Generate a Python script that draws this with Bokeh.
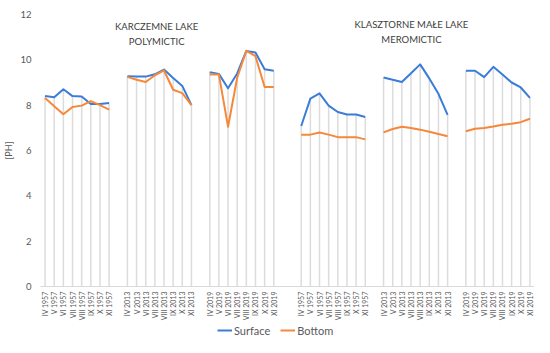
import math
from bokeh.plotting import figure
from bokeh.layouts import column
from bokeh.models import FixedTicker, Label, Legend, LegendItem, Range1d
from bokeh.embed import file_html
from bokeh.resources import INLINE

months = ["IV", "V", "VI", "VII", "VIII", "IX", "X", "XI"]
years = ["1957", "2013", "2019"]
lakes = ["KARCZEMNE LAKE\nPOLYMICTIC", "KLASZTORNE MAŁE LAKE\nMEROMICTIC"]
series_names = ["Surface", "Bottom"]

# Karczemne Lake
k1957_surface = [8.40, 8.35, 8.70, 8.40, 8.38, 8.05, 8.05, 8.10]
k1957_bottom = [8.32, 7.95, 7.60, 7.92, 7.98, 8.18, 8.00, 7.80]
k2013_surface = [9.28, 9.26, 9.26, 9.36, 9.57, 9.20, 8.85, 8.00]
k2013_bottom = [9.25, 9.12, 9.02, 9.32, 9.53, 8.68, 8.53, 8.00]
k2019_surface = [9.45, 9.38, 8.75, 9.40, 10.39, 10.32, 9.58, 9.52]
k2019_bottom = [9.35, 9.35, 7.05, 9.21, 10.40, 10.16, 8.80, 8.80]
# Klasztorne Małe Lake
m1957_surface = [7.08, 8.29, 8.52, 7.98, 7.70, 7.59, 7.59, 7.48]
m1957_bottom = [6.70, 6.70, 6.79, 6.70, 6.59, 6.59, 6.59, 6.49]
m2013_surface = [9.22, 9.12, 9.02, 9.41, 9.80, 9.18, 8.50, 7.57]
m2013_bottom = [6.80, 6.95, 7.05, 6.99, 6.92, 6.83, 6.73, 6.63]
m2019_surface = [9.52, 9.52, 9.24, 9.69, 9.35, 9.00, 8.78, 8.32]
m2019_bottom = [6.85, 6.96, 6.99, 7.06, 7.14, 7.18, 7.25, 7.40]

surface_groups = [k1957_surface, k2013_surface, k2019_surface,
                  m1957_surface, m2013_surface, m2019_surface]
bottom_groups = [k1957_bottom, k2013_bottom, k2019_bottom,
                 m1957_bottom, m2013_bottom, m2019_bottom]

BLUE = "#3A7DD8"
ORANGE = "#F5883A"
GREY = "#595959"

# category slot positions (one empty slot between years, two between lakes)
xs_groups = []
labels = {}
pos = 0
for li in range(2):
    for yi, yr in enumerate(years):
        xs = []
        for m in months:
            xs.append(pos)
            labels[pos] = f"{m} {yr}"
            pos += 1
        xs_groups.append(xs)
        pos += 1
    pos += 1
n_slots = pos - 2

p = figure(width=534, height=323, output_backend="svg", toolbar_location=None,
           x_range=(-0.5, n_slots - 0.5), y_range=(0, 12),
           min_border_left=33, min_border_right=0, min_border_top=14,
           min_border_bottom=37)
p.outline_line_color = None
p.xgrid.grid_line_color = None
p.ygrid.grid_line_color = None
p.background_fill_color = "white"
p.border_fill_color = "white"

# drop lines
dx, dy = [], []
for xs, s, b in zip(xs_groups, surface_groups, bottom_groups):
    for x, sv, bv in zip(xs, s, b):
        dx.append(x)
        dy.append(max(sv, bv))
p.segment(x0=dx, y0=[0] * len(dx), x1=dx, y1=dy, line_color="#DCDCDC", line_width=1.5)

p.multi_line(xs=xs_groups, ys=surface_groups, line_color=BLUE, line_width=2,
             line_join="round")
p.multi_line(xs=xs_groups, ys=bottom_groups, line_color=ORANGE, line_width=2,
             line_join="round")

# axes
p.xaxis.ticker = FixedTicker(ticks=list(labels.keys()))
p.xaxis.major_label_overrides = labels
p.xaxis.major_label_orientation = math.pi / 2
p.xaxis.major_label_text_font = "Lato"
p.xaxis.major_label_text_font_size = "7px"
p.xaxis.major_label_text_color = GREY
p.xaxis.major_tick_line_color = None
p.xaxis.major_tick_out = 0
p.xaxis.minor_tick_line_color = None
p.xaxis.axis_line_color = "#D9D9D9"
p.xaxis.major_label_standoff = 5

p.yaxis.ticker = FixedTicker(ticks=[0, 2, 4, 6, 8, 10, 12])
p.yaxis.major_label_text_font = "Lato"
p.yaxis.major_label_text_font_size = "9.5px"
p.yaxis.major_label_text_color = GREY
p.yaxis.major_tick_line_color = None
p.yaxis.major_tick_out = 0
p.yaxis.minor_tick_line_color = None
p.yaxis.axis_line_color = None
p.yaxis.major_label_standoff = 9
p.yaxis.axis_label = "[PH]"
p.yaxis.axis_label_text_font = "Lato"
p.yaxis.axis_label_text_font_size = "9px"
p.yaxis.axis_label_text_font_style = "normal"
p.yaxis.axis_label_text_color = GREY
p.yaxis.axis_label_standoff = 3

# lake titles
title_pos = [(12.2, 11.47, 10.81), (40.05, 11.56, 10.90)]
for text, (tx, ty1, ty2) in zip(lakes, title_pos):
    for line, ty in zip(text.split("\n"), (ty1, ty2)):
        p.add_layout(Label(x=tx, y=ty, text=line, text_align="center",
                           text_baseline="middle", text_font="Lato",
                           text_font_size="9.5px", text_color="#404040"))

# legend strip below the chart (series drawn out of view, only legend shows)
lg = figure(width=534, height=14, output_backend="svg", toolbar_location=None,
            min_border=0, x_range=p.x_range, y_range=Range1d(-2, -1))
lg.outline_line_color = None
lg.axis.visible = False
lg.grid.visible = False
lg.background_fill_color = "white"
lg.border_fill_color = "white"
items = []
for name, color, groups in zip(series_names, [BLUE, ORANGE],
                               [surface_groups, bottom_groups]):
    r = lg.multi_line(xs=xs_groups, ys=groups, line_color=color, line_width=2)
    items.append(LegendItem(label=name, renderers=[r]))
legend = Legend(items=items, orientation="horizontal", location=(177, 0),
                padding=0, margin=0, spacing=10, glyph_width=15, glyph_height=14,
                label_standoff=2, label_height=14,
                label_text_font="Lato", label_text_font_size="11px",
                label_text_color=GREY, border_line_color=None,
                background_fill_alpha=0)
lg.add_layout(legend, "center")

layout = column(p, lg, spacing=0)
open("out.html", "w").write(file_html(layout, INLINE))
